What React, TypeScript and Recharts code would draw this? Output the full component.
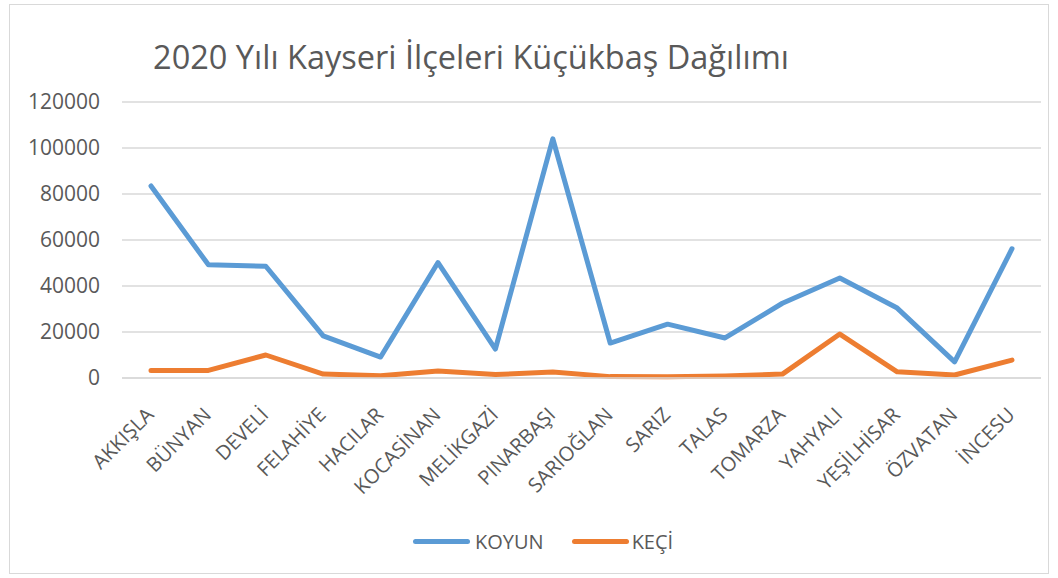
import React from 'react';
import { LineChart, Line, XAxis, YAxis, CartesianGrid } from 'recharts';

const districts = [
  'AKKIŞLA', 'BÜNYAN', 'DEVELİ', 'FELAHİYE', 'HACILAR', 'KOCASİNAN', 'MELİKGAZİ', 'PINARBAŞI',
  'SARIOĞLAN', 'SARIZ', 'TALAS', 'TOMARZA', 'YAHYALI', 'YEŞİLHİSAR', 'ÖZVATAN', 'İNCESU',
];
const koyun = [83500, 49200, 48600, 18300, 9100, 50200, 12600, 104000, 15200, 23400, 17400, 32500, 43500, 30400, 7000, 56200];
const keci = [3300, 3300, 10000, 1700, 1000, 3000, 1500, 2600, 600, 500, 900, 1700, 19100, 2700, 1300, 7800];
const yTicks = [0, 20000, 40000, 60000, 80000, 100000, 120000];

const seriesNames = { koyun: 'KOYUN', keci: 'KEÇİ' };
const colors = { koyun: '#5B9BD5', keci: '#ED7D31' };
const title = '2020 Yılı Kayseri İlçeleri Küçükbaş Dağılımı';

const data = districts.map((d, i) => ({ name: d, koyun: koyun[i], keci: keci[i] }));

const FONT = '"Open Sans", "Liberation Sans", sans-serif';
const TEXT = '#595959';

const XTick = (props: any) => {
  const { x, y, payload } = props;
  const ax = x + 4;
  const ay = y + 36;
  return (
    <text
      x={ax}
      y={ay}
      textAnchor="end"
      fill={TEXT}
      fontSize={20}
      fontFamily={FONT}
      transform={`rotate(-45, ${ax}, ${ay})`}
    >
      {payload.value}
    </text>
  );
};

export default function App() {
  return (
    <div style={{ position: 'absolute', left: 0, top: 0, width: 1058, height: 578, background: '#fff' }}>
      <div
        style={{
          position: 'absolute',
          left: 9,
          top: 4,
          width: 1040,
          height: 570,
          border: '1px solid #d9d9d9',
          boxSizing: 'border-box',
        }}
      />
      <div
        style={{
          position: 'absolute',
          left: 0,
          top: 33,
          width: 942,
          textAlign: 'center',
          fontFamily: FONT,
          fontSize: 32.5,
          lineHeight: '48px',
          color: TEXT,
          whiteSpace: 'nowrap',
        }}
      >
        {title}
      </div>
      <div style={{ position: 'absolute', left: 0, top: 0 }}>
        <LineChart width={1058} height={578} data={data} margin={{ top: 102, right: 17, bottom: 0, left: 0 }}>
          <CartesianGrid vertical={false} stroke="#d9d9d9" strokeWidth={1.5} />
          <XAxis
            dataKey="name"
            interval={0}
            tick={<XTick />}
            tickLine={false}
            axisLine={{ stroke: '#d9d9d9', strokeWidth: 1.5 }}
            height={200}
            tickSize={0}
            padding={{ left: 29, right: 29 }}
          />
          <YAxis
            domain={[0, 120000]}
            ticks={yTicks}
            width={122}
            axisLine={false}
            tickLine={false}
            tickSize={0}
            tickMargin={22}
            tick={{ fill: TEXT, fontSize: 21, fontFamily: FONT }}
          />
          <Line
            type="linear"
            dataKey="koyun"
            name={seriesNames.koyun}
            stroke={colors.koyun}
            strokeWidth={5}
            dot={false}
            strokeLinejoin="round"
            strokeLinecap="round"
            isAnimationActive={false}
          />
          <Line
            type="linear"
            dataKey="keci"
            name={seriesNames.keci}
            stroke={colors.keci}
            strokeWidth={5}
            dot={false}
            strokeLinejoin="round"
            strokeLinecap="round"
            isAnimationActive={false}
          />
        </LineChart>
      </div>
      <div
        style={{
          position: 'absolute',
          left: 413,
          top: 528,
          display: 'flex',
          alignItems: 'center',
          fontFamily: FONT,
          fontSize: 20,
          color: TEXT,
          height: 26,
        }}
      >
        <span style={{ display: 'inline-block', width: 57, height: 5, borderRadius: 3, background: colors.koyun }} />
        <span style={{ marginLeft: 5 }}>{seriesNames.koyun}</span>
        <span style={{ display: 'inline-block', width: 57, height: 5, borderRadius: 3, background: colors.keci, marginLeft: 28 }} />
        <span style={{ marginLeft: 3 }}>{seriesNames.keci}</span>
      </div>
    </div>
  );
}
